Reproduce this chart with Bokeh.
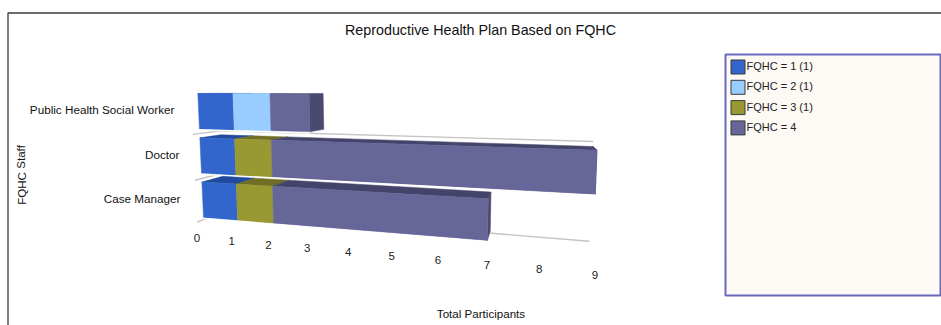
from bokeh.core.properties import value
from bokeh.embed import file_html
from bokeh.models import ColumnDataSource
from bokeh.plotting import figure
from bokeh.resources import INLINE

# Chart data
categories = ["Public Health Social Worker", "Doctor", "Case Manager"]
series_names = ["FQHC = 1 (1)", "FQHC = 2 (1)", "FQHC = 3 (1)", "FQHC = 4"]
fqhc_1 = [1, 1, 1]
fqhc_2 = [1, 0, 0]
fqhc_3 = [0, 1, 1]
fqhc_4 = [1, 7, 5]
x_ticks = [0, 1, 2, 3, 4, 5, 6, 7, 8, 9]

series = [fqhc_1, fqhc_2, fqhc_3, fqhc_4]
front_colors = ["#3366cc", "#99ccff", "#999933", "#666699"]
top_colors = ["#224a9c", "#7fa9d6", "#6e6e24", "#44446b"]
side_color = "#4a4a70"

FONT = value("Liberation Sans")
W, H = 941, 325

p = figure(width=W, height=H, x_range=(0, W), y_range=(H, 0),
           output_backend="svg", toolbar_location=None, min_border=0,
           outline_line_color=None, background_fill_color="white",
           border_fill_color="white")
p.axis.visible = False
p.grid.visible = False

# Perspective camera: values recede toward a vanishing point on the right.
SHRINK = 0.0259
UNIT = 34.2
HORIZON = 85.0
RISE = 0.0203
DEPTH_VP = (532.0, 90.0)
BAR_DEPTH = 0.063


def recede(v):
    return v / (1 - SHRINK * v)


def project(v, level, depth=0.0):
    """Map a value, a screen level at v=0 and a depth fraction to page pixels."""
    u = recede(v)
    x = 197.3 + (level - 92.7) * 0.046 + (UNIT - (level - 92.7) * 0.008) * u
    y = level + RISE * (level - HORIZON) * u
    return x + depth * (DEPTH_VP[0] - x), y + depth * (DEPTH_VP[1] - y)


def quad(points):
    return [pt[0] for pt in points], [pt[1] for pt in points]


def row_top(row):
    return 93 + 44.3 * row


BAR_HEIGHT = 35.5

# Chart frame
p.line([7.5, 7.5, W], [H, 12.5, 12.5], line_color="#3c3c3c", line_width=1.3)

# Floor lines between the category bands
for level in (133, 178, 219):
    xs, ys = quad([project(0, level, -0.02), project(0, level, 0.063), project(9, level, 0.063)])
    p.line(xs, ys, line_color="#c4c4c4", line_width=1.4)

# Stacked bars, back row first so nearer rows overlap it
for row in range(len(categories)):
    top, bottom = row_top(row), row_top(row) + BAR_HEIGHT
    start = 0
    segments = []
    for s, values in enumerate(series):
        if values[row]:
            segments.append((start, start + values[row], s))
            start += values[row]
    for a, b, s in segments:
        xs, ys = quad([project(a, top), project(b, top),
                       project(b, top, BAR_DEPTH), project(a, top, BAR_DEPTH)])
        p.patch(xs, ys, fill_color=top_colors[s], line_color=top_colors[s], line_width=0.5)
    xs, ys = quad([project(start, top), project(start, top, BAR_DEPTH),
                   project(start, bottom, BAR_DEPTH), project(start, bottom)])
    p.patch(xs, ys, fill_color=side_color, line_color=side_color, line_width=0.5)
    for a, b, s in segments:
        xs, ys = quad([project(a, top), project(b, top), project(b, bottom), project(a, bottom)])
        p.patch(xs, ys, fill_color=front_colors[s], line_color=front_colors[s], line_width=0.5)
    # Pale rim along the lower edge of the bar
    xs, ys = quad([project(0, bottom + 1), project(start, bottom + 1)])
    p.line(xs, ys, line_color="white", line_width=1.5)

# Value labels follow the same perspective, on their own level below the bars
tick_x = [196.5 + 33.9 * recede(t) for t in x_ticks]
tick_y = [project(t, 238)[1] - 0.4 for t in x_ticks]
p.text(tick_x, tick_y, text=[str(t) for t in x_ticks], text_font=FONT, text_font_size="11.5px",
       text_color="#222222", text_align="center", text_baseline="middle")

# Category labels
p.text([174, 179, 180], [109, 154, 198], text=categories, text_font=FONT,
       text_font_size="11.7px", text_color="#111111", text_align="right", text_baseline="middle")

# Titles
p.text([480], [29], text=["Reproductive Health Plan Based on FQHC"], text_font=FONT,
       text_font_size="14.3px", text_color="#111111", text_align="center", text_baseline="middle")
p.text([480.5], [313], text=["Total Participants"], text_font=FONT, text_font_size="11.6px",
       text_color="#111111", text_align="center", text_baseline="middle")
p.text([20.5], [174.5], text=["FQHC Staff"], angle=1.5708, text_font=FONT, text_font_size="11.6px",
       text_color="#111111", text_align="center", text_baseline="middle")

# Legend panel
p.quad(left=[725], right=[940], top=[54], bottom=[295], fill_color="#fdf9f4",
       line_color="#6a6ac0", line_width=2)
legend = ColumnDataSource(dict(
    x=[737.5] * 4,
    y=[66.5 + 20.3 * i for i in range(4)],
    tx=[746] * 4,
    ty=[65.5 + 20.3 * i for i in range(4)],
    name=series_names,
    color=front_colors,
))
p.rect("x", "y", width=14, height=14, source=legend, fill_color="color",
       line_color="#3a3a3a", line_width=1)
p.text("tx", "ty", text="name", source=legend, text_font=FONT, text_font_size="11px",
       text_color="#222222", text_baseline="middle")

open("out.html", "w").write(file_html(p, INLINE))
